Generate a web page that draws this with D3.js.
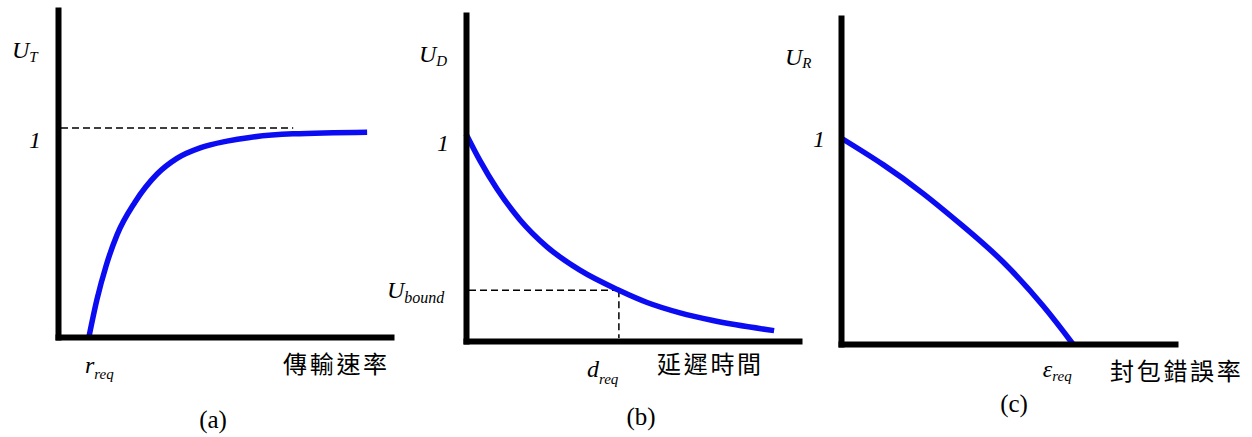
<!DOCTYPE html>
<html>
<head>
<meta charset="utf-8">
<script src="https://cdn.jsdelivr.net/npm/d3@7"></script>
<style>
  html, body { margin: 0; padding: 0; background: #fff; }
  svg { display: block; }
  .math { font-family: "Liberation Serif", "Times New Roman", serif; font-style: italic; fill: #000; }
  .cap { font-family: "Liberation Serif", "Times New Roman", serif; fill: #000; }
  .cjk { font-family: "Noto Sans CJK TC", "Noto Sans CJK SC", sans-serif; fill: #000; }
</style>
</head>
<body>
<svg id="chart" width="1252" height="437"></svg>
<script>
// Panel captions and axis titles
const captions = ["(a)", "(b)", "(c)"];
const axisTitles = ["傳輸速率", "延遲時間", "封包錯誤率"];
const utilitySubs = ["T", "D", "R"];
const thresholdMain = ["r", "d", "ε"];

// (a) throughput utility vs. transmission rate
const rateX = [0.92, 1.16, 1.43, 1.76, 2.29, 2.95, 3.54, 4.23, 5.03, 5.71, 6.99, 9.2];
const rateU = [0, 0.18, 0.34, 0.49, 0.645, 0.78, 0.855, 0.905, 0.937, 0.955, 0.972, 0.98];
const rateRefEnd = 7.0;   // where the dashed "1" guide stops

// (b) delay utility vs. delay
const delayX = [0, 0.42, 0.92, 1.61, 2.41, 3.39, 4.55, 5.39, 6.37, 7.35, 9.17];
const delayU = [1.0, 0.87, 0.735, 0.585, 0.455, 0.342, 0.245, 0.186, 0.136, 0.099, 0.05];
const delayReq = 4.55;
const delayBound = 0.245;

// (c) reliability utility vs. packet error rate
const errX = [0.05, 1.25, 2.43, 3.62, 4.81, 6.0, 6.88];
const errU = [1.0, 0.875, 0.735, 0.575, 0.4, 0.185, 0];

const svg = d3.select("#chart");
const BLUE = "#0c0cf2";

// Geometry of each small plot
const frames = [
  { left: 58,  right: 394,  base: 337, top: 7,  one: 128 },
  { left: 466, right: 802,  base: 341, top: 12, one: 134 },
  { left: 841, right: 1178, base: 344, top: 15, one: 139 }
];

function makeScales(f) {
  const x = d3.scaleLinear().domain([0, 10]).range([f.left, f.right]);
  const y = d3.scaleLinear().domain([0, 1]).range([f.base, f.one]);
  return { x, y };
}

function drawAxes(f, s) {
  // x axis starts a little left of the y axis so the corner closes cleanly
  const xa = d3.scaleLinear().domain([s.x.invert(f.left - 3), 10]).range([f.left - 3, f.right]);
  const ya = d3.scaleLinear().domain([s.y.invert(f.base + 3), s.y.invert(f.top)]).range([f.base + 3, f.top]);
  const gx = svg.append("g").attr("transform", `translate(0,${f.base})`)
    .call(d3.axisBottom(xa).tickValues([]).tickSizeOuter(0));
  const gy = svg.append("g").attr("transform", `translate(${f.left},0)`)
    .call(d3.axisLeft(ya).tickValues([]).tickSizeOuter(0));
  [gx, gy].forEach(g => g.select(".domain").attr("stroke", "#000").attr("stroke-width", 6));
}

function drawCurve(s, xs, us, curve) {
  const line = d3.line()
    .x((d, i) => s.x(xs[i]))
    .y(d => s.y(d))
    .curve(curve);
  svg.append("path")
    .attr("d", line(us))
    .attr("fill", "none")
    .attr("stroke", BLUE)
    .attr("stroke-width", 5.5)
    .attr("stroke-linecap", "butt");
}

function dashed(x1, y1, x2, y2) {
  svg.append("line")
    .attr("x1", x1).attr("y1", y1).attr("x2", x2).attr("y2", y2)
    .attr("stroke", "#000").attr("stroke-width", 1.5)
    .attr("stroke-dasharray", "7,4");
}

function mathLabel(x, y, main, sub, subDy, mainSize, subSize) {
  const t = svg.append("text").attr("class", "math").attr("x", x).attr("y", y)
    .attr("font-size", mainSize || 24);
  t.append("tspan").text(main);
  if (sub) {
    t.append("tspan").attr("dy", subDy).attr("font-size", subSize || 15).text(sub);
  }
  return t;
}

function cjk(x, y, str) {
  svg.append("text").attr("class", "cjk").attr("x", x).attr("y", y)
    .attr("font-size", 24).attr("letter-spacing", 2.7).text(str);
}

function caption(x, y, str) {
  svg.append("text").attr("class", "cap").attr("x", x).attr("y", y)
    .attr("font-size", 25).attr("text-anchor", "middle").text(str);
}

// ---------- (a) ----------
{
  const f = frames[0], s = makeScales(f);
  dashed(f.left + 3, s.y(1), s.x(rateRefEnd), s.y(1));
  drawCurve(s, rateX, rateU, d3.curveMonotoneX);
  drawAxes(f, s);
  mathLabel(12, 58, "U", utilitySubs[0], 4);
  mathLabel(29, s.y(1) + 20, "1");
  mathLabel(s.x(rateX[0]) - 4, 373, thresholdMain[0], "req", 6);
  cjk(283, 373, axisTitles[0]);
  caption(213, 428, captions[0]);
}

// ---------- (b) ----------
{
  const f = frames[1], s = makeScales(f);
  dashed(f.left + 3, s.y(delayBound), s.x(delayReq), s.y(delayBound));
  dashed(s.x(delayReq), s.y(delayBound), s.x(delayReq), f.base - 3);
  drawCurve(s, delayX, delayU, d3.curveMonotoneX);
  drawAxes(f, s);
  mathLabel(419, 62, "U", utilitySubs[1], 4);
  mathLabel(437, s.y(1) + 17, "1");
  mathLabel(387, s.y(delayBound) + 8, "U", "bound", 5, 24, 16);
  mathLabel(s.x(delayReq) - 32, 377, thresholdMain[1], "req", 7);
  cjk(657, 373, axisTitles[1]);
  caption(641, 425, captions[1]);
}

// ---------- (c) ----------
{
  const f = frames[2], s = makeScales(f);
  drawCurve(s, errX, errU, d3.curveNatural);
  drawAxes(f, s);
  mathLabel(785, 65, "U", utilitySubs[2], 3);
  mathLabel(813, s.y(1) + 8, "1");
  mathLabel(s.x(errX[errX.length - 1]) - 30, 377, thresholdMain[2], "req", 4);
  cjk(1110, 380, axisTitles[2]);
  caption(1014, 412, captions[2]);
}
</script>
</body>
</html>
